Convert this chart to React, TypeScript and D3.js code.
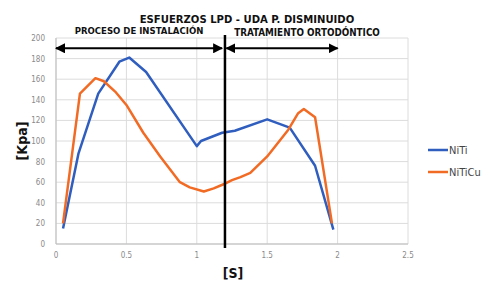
import React from 'react';
import * as d3 from 'd3';

const tickX = [0, 0.5, 1, 1.5, 2, 2.5];
const tickY = [0, 20, 40, 60, 80, 100, 120, 140, 160, 180, 200];

const nitiTime = [0.05, 0.16, 0.3, 0.45, 0.52, 0.64, 1.0, 1.03, 1.18, 1.27, 1.5, 1.66, 1.84, 1.97];
const nitiKpa = [15, 88, 146, 177, 181, 167, 95, 100, 108, 110, 121, 113, 76, 14];

const niticuTime = [0.05, 0.17, 0.28, 0.34, 0.42, 0.5, 0.62, 0.74, 0.88, 0.95, 1.05, 1.12, 1.19, 1.25, 1.31, 1.38, 1.5, 1.65, 1.72, 1.76, 1.84, 1.96];
const niticuKpa = [20, 146, 161, 158, 148, 135, 108, 85, 60, 55, 51, 54, 58, 62, 65, 69, 85, 111, 127, 131, 123, 20];

const seriesNames = ['NiTi', 'NiTiCu'];
const seriesColors = ['#2F5EBF', '#F26B25'];

// phase markers
const splitAt = 1.2;
const arrowLevel = 190;
const phaseLeft = [0, 1.18];
const phaseRight = [1.21, 2.0];
const phaseLabels = ['PROCESO DE INSTALACIÓN', 'TRATAMIENTO ORTODÓNTICO'];

const W = 491;
const H = 281;
const margin = { top: 38, right: 83, bottom: 37, left: 56 };
const font = '"Liberation Sans Narrow", "DejaVu Sans Condensed", Arial, sans-serif';

export default function App() {
  const x = d3.scaleLinear().domain([0, 2.5]).range([margin.left, W - margin.right]);
  const y = d3.scaleLinear().domain([0, 200]).range([H - margin.bottom, margin.top]);

  const line = d3.line<[number, number]>()
    .x((d) => x(d[0]))
    .y((d) => y(d[1]));

  const series = [
    d3.zip(nitiTime, nitiKpa) as [number, number][],
    d3.zip(niticuTime, niticuKpa) as [number, number][],
  ];

  const ay = y(arrowLevel);

  return (
    <svg width={W} height={H} style={{ position: 'absolute', left: 0, top: 0, background: '#fff' }}>
      <defs>
        <marker id="ah" viewBox="0 0 10 10" refX="9" refY="5" markerWidth="5" markerHeight="5" orient="auto-start-reverse">
          <path d="M0,0 L10,5 L0,10 z" fill="#000" />
        </marker>
      </defs>

      {/* grid */}
      {tickY.map((t) => (
        <line key={'gy' + t} x1={x(0)} x2={x(2.5)} y1={y(t)} y2={y(t)} stroke="#dcdcdc" strokeWidth={1} />
      ))}
      {tickX.map((t) => (
        <line key={'gx' + t} x1={x(t)} x2={x(t)} y1={y(0)} y2={y(200)} stroke="#dcdcdc" strokeWidth={1} />
      ))}
      <line x1={x(0)} x2={x(2.5)} y1={y(0)} y2={y(0)} stroke="#bdbdbd" />
      <line x1={x(0)} x2={x(0)} y1={y(0)} y2={y(200)} stroke="#bdbdbd" />

      {/* tick labels */}
      {tickY.map((t) => (
        <text key={'ty' + t} x={x(0) - 11} y={y(t) + 3} textAnchor="end" fontSize={8} fill="#8a8a8a" fontFamily={font}>{t}</text>
      ))}
      {tickX.map((t) => (
        <text key={'tx' + t} x={x(t)} y={y(0) + 14} textAnchor="middle" fontSize={8} fill="#8a8a8a" fontFamily={font}>{t}</text>
      ))}

      {/* series */}
      {series.map((s, i) => (
        <path key={seriesNames[i]} d={line(s) || ''} fill="none" stroke={seriesColors[i]} strokeWidth={2.5} strokeLinejoin="round" />
      ))}

      {/* phase split */}
      <line x1={x(splitAt)} x2={x(splitAt)} y1={y(200) - 3} y2={y(0) + 4} stroke="#000" strokeWidth={2.5} />
      <line x1={x(phaseLeft[0])} x2={x(phaseLeft[1])} y1={ay} y2={ay} stroke="#000" strokeWidth={2} markerStart="url(#ah)" markerEnd="url(#ah)" />
      <line x1={x(phaseRight[0])} x2={x(phaseRight[1])} y1={ay} y2={ay} stroke="#000" strokeWidth={2} markerStart="url(#ah)" markerEnd="url(#ah)" />

      {/* titles */}
      <text x={247} y={23} textAnchor="middle" fontSize={11.2} fontWeight="bold" fontFamily={font} fill="#111">ESFUERZOS LPD - UDA P. DISMINUIDO</text>
      <text x={139} y={34} textAnchor="middle" fontSize={9.5} fontWeight="bold" fontFamily={font} fill="#111">{phaseLabels[0]}</text>
      <text x={307} y={36} textAnchor="middle" fontSize={9.8} fontWeight="bold" fontFamily={font} fill="#111">{phaseLabels[1]}</text>

      {/* axis titles */}
      <text transform={`translate(27,${y(100)}) rotate(-90)`} textAnchor="middle" fontSize={14} fontWeight="bold" fontFamily={font} fill="#111">[Kpa]</text>
      <text x={233} y={278} textAnchor="middle" fontSize={14} fontWeight="bold" fontFamily={font} fill="#111">[S]</text>

      {/* legend */}
      {seriesNames.map((n, i) => (
        <g key={'lg' + n} transform={`translate(428,${150 + i * 22})`}>
          <line x1={0} x2={20} y1={0} y2={0} stroke={seriesColors[i]} strokeWidth={2.5} />
          <text x={21} y={4} fontSize={11} fontFamily={font} fill="#444">{n}</text>
        </g>
      ))}
    </svg>
  );
}
